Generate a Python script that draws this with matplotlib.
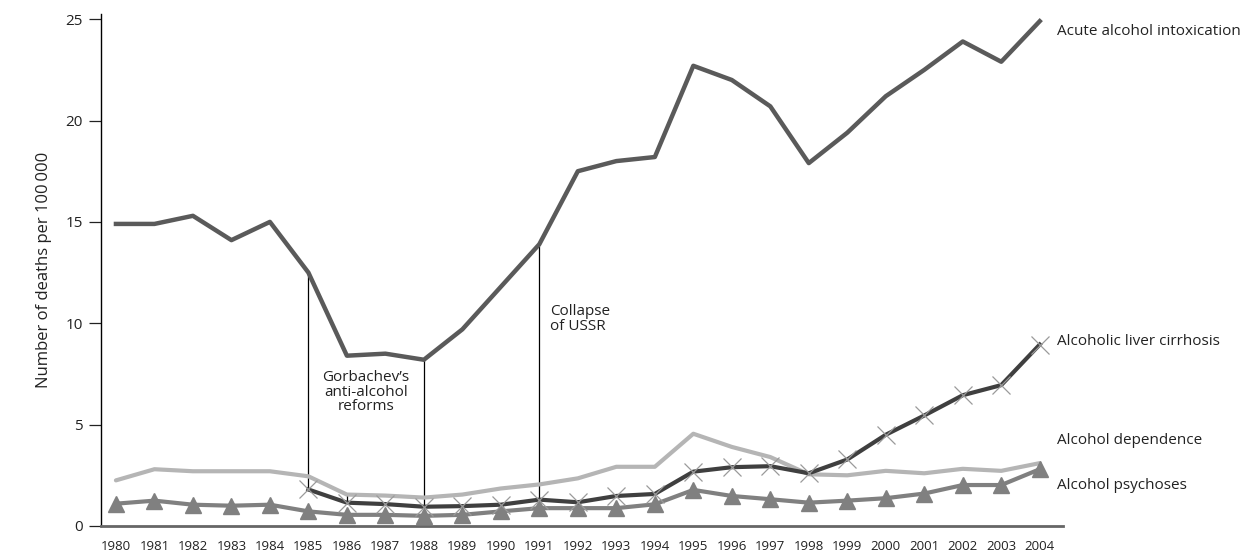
import matplotlib
matplotlib.use("Agg")
import matplotlib.pyplot as plt

plt.rcParams['font.family'] = ['Open Sans', 'DejaVu Sans']

years = list(range(1980, 2005))
acute = [14.9, 14.9, 15.3, 14.1, 15.0, 12.5, 8.4, 8.5, 8.2, 9.7, 11.8, 13.9, 17.5,
         18.0, 18.2, 22.7, 22.0, 20.7, 17.9, 19.4, 21.2, 22.5, 23.9, 22.9, 24.9]
dependence = [2.25, 2.8, 2.7, 2.7, 2.7, 2.45, 1.55, 1.5, 1.4, 1.55, 1.85, 2.05, 2.35,
              2.92, 2.92, 4.55, 3.9, 3.4, 2.55, 2.5, 2.72, 2.6, 2.82, 2.72, 3.1]
cirr_years = list(range(1985, 2005))
cirrhosis = [1.8, 1.15, 1.08, 0.95, 0.98, 1.05, 1.3, 1.17,
             1.48, 1.58, 2.68, 2.9, 2.95, 2.6, 3.28, 4.5, 5.45, 6.45, 6.95, 8.95]
psychoses = [1.1, 1.25, 1.05, 1.0, 1.05, 0.72, 0.55, 0.55, 0.5, 0.55, 0.72, 0.88, 0.88,
             0.88, 1.07, 1.78, 1.48, 1.32, 1.15, 1.25, 1.37, 1.6, 2.02, 2.02, 2.8]

series_labels = ["Acute alcohol intoxication", "Alcoholic liver cirrhosis",
                 "Alcohol dependence", "Alcohol psychoses"]
label_y = [24.4, 9.1, 4.2, 2.0]

event_years = [1985, 1988, 1991]
yticks = [0, 5, 10, 15, 20, 25]

fig = plt.figure(figsize=(12.46, 5.51), dpi=100)
ax = fig.add_axes([0.081, 0.0454, 0.772, 0.929])

# event lines (from cirrhosis up to acute)
for ey in event_years:
    ci = cirr_years.index(ey)
    ai = years.index(ey)
    ax.plot([ey, ey], [cirrhosis[ci], acute[ai]], color='black', lw=0.9, zorder=1)
# short line at 1986
ax.plot([1986, 1986], [cirrhosis[1], dependence[years.index(1986)]], color='black', lw=0.9, zorder=1)

ax.plot(years, dependence, color='#b5b5b5', lw=3.0, zorder=2, solid_capstyle='round')
ax.plot(years, psychoses, color='#808080', lw=3.0, marker='^', markersize=11,
        markerfacecolor='#808080', markeredgecolor='#808080', zorder=3)
ax.plot(cirr_years, cirrhosis, color='#3f3f3f', lw=3.0, marker='x', markersize=13,
        markeredgecolor='#9a9a9a', markeredgewidth=0.9, zorder=4)
ax.plot(years, acute, color='#5a5a5a', lw=3.2, zorder=5)

ax.set_xlim(1979.61, 2004.6)
ax.set_ylim(0, 25.25)
ax.set_yticks(yticks)
ax.set_xticks(years)
ax.set_xticklabels([str(y) for y in years], fontsize=9.5)
ax.tick_params(axis='x', length=0, pad=10, colors='#222222')
ax.tick_params(axis='y', length=9, width=0.9, pad=4, labelsize=11, colors='#222222')

for s in ['top', 'right']:
    ax.spines[s].set_visible(False)
ax.spines['left'].set_linewidth(1.0)
ax.spines['bottom'].set_color('#666666')
ax.spines['bottom'].set_linewidth(2.0)

ax.set_ylabel("Number of deaths per 100\u2009000", fontsize=12, color='#222222', labelpad=10)

for lab, yv in zip(series_labels, label_y):
    ax.text(2004.45, yv, lab, fontsize=11, color='#222222', va='center', ha='left', clip_on=False)

ax.text(1986.5, 6.6, "Gorbachev\u2019s\nanti-alcohol\nreforms", fontsize=11, color='#222222',
        ha='center', va='center', linespacing=0.95)
ax.text(1991.27, 10.2, "Collapse\nof USSR", fontsize=11, color='#222222',
        ha='left', va='center', linespacing=0.95)

fig.savefig("out.png", dpi=100)
